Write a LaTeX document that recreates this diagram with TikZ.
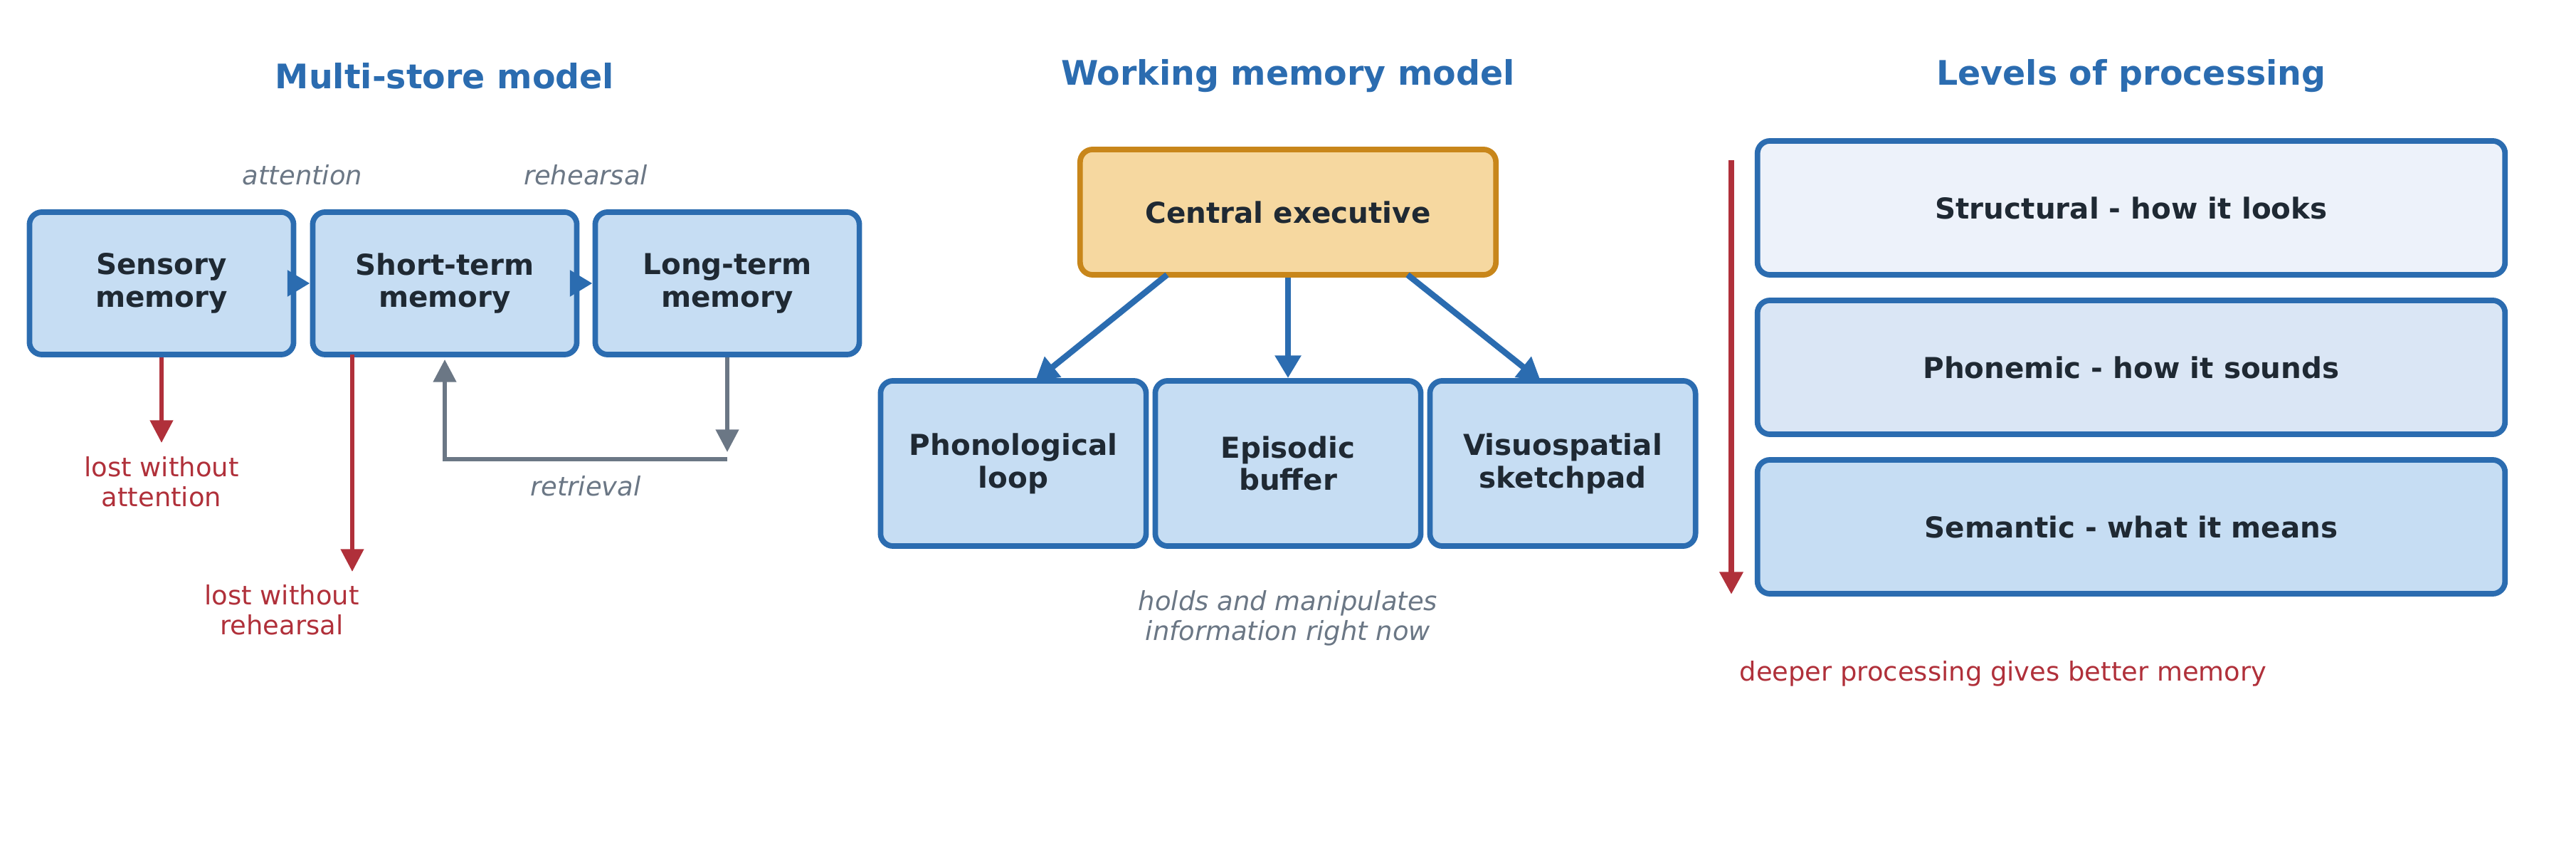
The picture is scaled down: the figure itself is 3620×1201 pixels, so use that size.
\documentclass[tikz,border=0pt]{standalone}
\usepackage{fontspec}
\setmainfont{DejaVu Sans}
\usetikzlibrary{arrows.meta}
\definecolor{mblue}{HTML}{2B6CB0}
\definecolor{mfill}{HTML}{C6DDF3}
\definecolor{mtext}{HTML}{1F2933}
\definecolor{mgray}{HTML}{6B7785}
\definecolor{mred}{HTML}{B0303A}
\definecolor{oborder}{HTML}{C8861A}
\definecolor{ofill}{HTML}{F6D8A0}
\definecolor{lone}{HTML}{EDF2FA}
\definecolor{ltwo}{HTML}{DAE6F5}
\begin{document}
\begin{tikzpicture}
        [x=0.01cm,y=-0.01cm,
        box/.style={draw=mblue,fill=mfill,line width=2.2pt,rounded corners=5pt,text=mtext,font=\fontsize{11.5}{13}\selectfont\bfseries,align=center,inner sep=0},
        title/.style={text=mblue,font=\fontsize{13.5}{16}\selectfont\bfseries},
        note/.style={text=mgray,font=\fontsize{10.5}{12}\selectfont\itshape,align=center},
        loss/.style={text=mred,font=\fontsize{10.5}{12}\selectfont,align=center},
        flow/.style={-{Triangle[length=9pt,width=10pt]},line width=2.4pt,draw=mblue},
        lossarrow/.style={-{Triangle[length=9pt,width=9pt]},line width=1.6pt,draw=mred},
        back/.style={-{Triangle[length=9pt,width=9pt]},line width=1.6pt,draw=mgray}]

        \useasboundingbox (0,0) rectangle (3620,1201);

        % multi-store model
        \node[title] (t1) at (625,107) {Multi-store model};
        \node[box,minimum width=3.71cm,minimum height=2cm] (sens) at (227,398) {Sensory\\memory};
        \node[box,minimum width=3.71cm,minimum height=2cm] (short) at (625,398) {Short-term\\memory};
        \node[box,minimum width=3.71cm,minimum height=2cm] (long) at (1022,398) {Long-term\\memory};
        \node[note] (att) at (425,246) {attention};
        \node[note] (reh) at (823,246) {rehearsal};
        \draw[flow] (sens) -- (short);
        \draw[flow] (short) -- (long);
        \coordinate (s1) at (227,622);
        \coordinate (s2) at (495,498);
        \coordinate (s3) at (495,803);
        \draw[lossarrow] (sens.south) -- (s1);
        \draw[lossarrow] (s2) -- (s3);
        \node[loss] (la) at (227,677) {lost without\\attention};
        \node[loss] (lr) at (396,857) {lost without\\rehearsal};
        \coordinate (r1) at (1022,635);
        \coordinate (r2) at (1022,645);
        \coordinate (r3) at (625,645);
        \coordinate (r4) at (625,505);
        \draw[back] (long.south) -- (r1);
        \draw[back] (r2) -- (r3) -- (r4);
        \node[note] (ret) at (823,683) {retrieval};

        % working memory model
        \node[title] (t2) at (1810,107) {Working memory model};
        \node[box,draw=oborder,fill=ofill,minimum width=5.84cm,minimum height=1.76cm] (ce) at (1810,298) {Central executive};
        \node[box,minimum width=3.73cm,minimum height=2.32cm] (phon) at (1424,651) {Phonological\\loop};
        \node[box,minimum width=3.73cm,minimum height=2.32cm] (epi) at (1810,651) {Episodic\\buffer};
        \node[box,minimum width=3.73cm,minimum height=2.32cm] (visu) at (2196,651) {Visuospatial\\sketchpad};
        \coordinate (c1) at (1640,386);
        \coordinate (c3) at (1978,386);
        \coordinate (p1) at (1455,535);
        \coordinate (p3) at (2165,535);
        \draw[flow] (c1) -- (p1);
        \draw[flow] (ce.south) -- (epi.north);
        \draw[flow] (c3) -- (p3);
        \node[note] (hold) at (1810,868) {holds and manipulates\\information right now};

        % levels of processing
        \node[title] (t3) at (2995,107) {Levels of processing};
        \node[box,fill=lone,minimum width=10.5cm,minimum height=1.88cm] (str) at (2995,292) {Structural - how it looks};
        \node[box,fill=ltwo,minimum width=10.5cm,minimum height=1.88cm] (pho) at (2995,516) {Phonemic - how it sounds};
        \node[box,minimum width=10.5cm,minimum height=1.88cm] (sem) at (2995,740) {Semantic - what it means};
        \coordinate (d1) at (2433,225);
        \coordinate (d2) at (2433,835);
        \draw[lossarrow,line width=2.4pt] (d1) -- (d2);
        \node[loss] (deep) at (2815,946) {deeper processing gives better memory};

      \end{tikzpicture}
\end{document}
